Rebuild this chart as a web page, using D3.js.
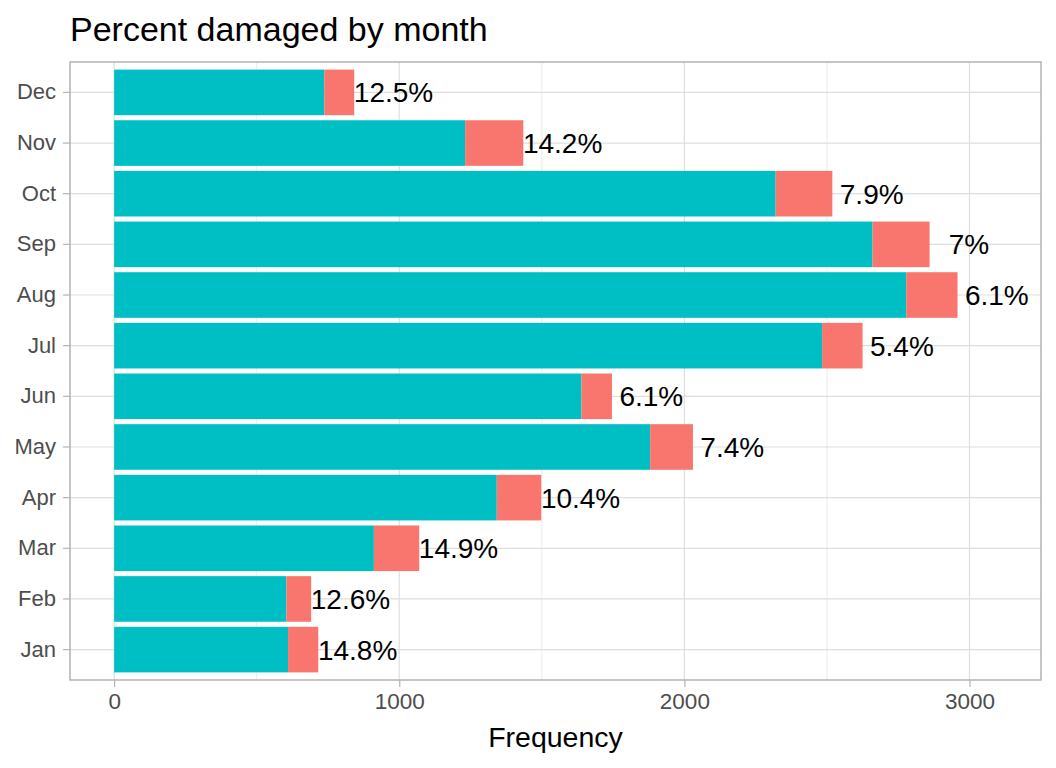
<!DOCTYPE html>
<html>
<head>
<meta charset="utf-8">
<script src="https://cdn.jsdelivr.net/npm/d3@7"></script>
<style>
  body { margin: 0; background: #fff; }
  text { font-family: "Liberation Sans", Arial, sans-serif; }
</style>
</head>
<body>
<div id="svg-canvas"></div>
<script>
// data
var months = ["Jan", "Feb", "Mar", "Apr", "May", "Jun", "Jul", "Aug", "Sep", "Oct", "Nov", "Dec"]
var notDamaged = [610, 604, 911, 1342, 1880, 1639, 2483, 2778, 2660, 2320, 1231, 737]
var damaged = [106, 87, 159, 156, 150, 107, 142, 180, 200, 199, 204, 105]
var pctLabels = ["14.8%", "12.6%", "14.9%", "10.4%", "7.4%", "6.1%", "5.4%", "6.1%", "7%", "7.9%", "14.2%", "12.5%"]
var xTicks = [0, 1000, 2000, 3000]
var labelNudge = 138

var W = 1056, H = 768
var pLeft = 70, pRight = 1041, pTop = 62, pBottom = 680

var svg = d3.select('#svg-canvas')
  .append('svg')
  .attr("width", W)
  .attr("height", H)

var rows = months.map(function (m, i) {
  return { month: m, nd: notDamaged[i], dmg: damaged[i], total: notDamaged[i] + damaged[i], label: pctLabels[i] }
})

// ggplot style 5% expansion, label positions included
var maxX = d3.max(rows, function (d) { return d.total + labelNudge })
var pad = maxX * 0.05
var x = d3.scaleLinear().domain([-pad, maxX + pad]).range([pLeft, pRight])

// discrete axis: 0.6 units of expansion each side, bars 0.9 wide
var y = d3.scaleBand()
  .domain(months.slice().reverse())
  .range([pTop, pBottom])
  .paddingInner(0.1)
  .paddingOuter(0.15)

var g = svg.append("g")

// minor grid
g.selectAll(".minor")
  .data([500, 1500, 2500])
  .enter().append("line")
  .attr("x1", function (d) { return x(d) })
  .attr("x2", function (d) { return x(d) })
  .attr("y1", pTop).attr("y2", pBottom)
  .attr("stroke", "#e6e6e6")
  .attr("stroke-width", 0.8)

// major grid
g.selectAll(".vmajor")
  .data(xTicks)
  .enter().append("line")
  .attr("x1", function (d) { return x(d) })
  .attr("x2", function (d) { return x(d) })
  .attr("y1", pTop).attr("y2", pBottom)
  .attr("stroke", "#dedede")
  .attr("stroke-width", 1.2)

g.selectAll(".hmajor")
  .data(months)
  .enter().append("line")
  .attr("x1", pLeft).attr("x2", pRight)
  .attr("y1", function (d) { return y(d) + y.bandwidth() / 2 })
  .attr("y2", function (d) { return y(d) + y.bandwidth() / 2 })
  .attr("stroke", "#dedede")
  .attr("stroke-width", 1.2)

// bars
g.selectAll(".nd")
  .data(rows)
  .enter().append("rect")
  .attr("x", x(0))
  .attr("y", function (d) { return y(d.month) })
  .attr("width", function (d) { return x(d.nd) - x(0) })
  .attr("height", y.bandwidth())
  .attr("fill", "#00BFC4")

g.selectAll(".dmg")
  .data(rows)
  .enter().append("rect")
  .attr("x", function (d) { return x(d.nd) })
  .attr("y", function (d) { return y(d.month) })
  .attr("width", function (d) { return x(d.total) - x(d.nd) })
  .attr("height", y.bandwidth())
  .attr("fill", "#F8766D")

// percent labels
g.selectAll(".lab")
  .data(rows)
  .enter().append("text")
  .attr("x", function (d) { return x(d.total + labelNudge) })
  .attr("y", function (d) { return y(d.month) + y.bandwidth() / 2 })
  .attr("dy", "0.36em")
  .attr("text-anchor", "middle")
  .attr("font-size", 28)
  .attr("fill", "#000")
  .text(function (d) { return d.label })

// panel border
svg.append("rect")
  .attr("x", pLeft).attr("y", pTop)
  .attr("width", pRight - pLeft).attr("height", pBottom - pTop)
  .attr("fill", "none")
  .attr("stroke", "#b3b3b3")
  .attr("stroke-width", 1.5)

// axes
var xAxis = svg.append("g")
  .attr("transform", "translate(0," + pBottom + ")")
  .call(d3.axisBottom(x).tickValues(xTicks).tickSize(7).tickPadding(6).tickFormat(d3.format("d")))
xAxis.select(".domain").remove()
xAxis.selectAll("line").attr("stroke", "#b3b3b3").attr("stroke-width", 1.2)
xAxis.selectAll("text").attr("font-size", 22.5).attr("fill", "#4d4d4d")
  .style("font-family", '"Liberation Sans", Arial, sans-serif')

var yAxis = svg.append("g")
  .attr("transform", "translate(" + pLeft + ",0)")
  .call(d3.axisLeft(y).tickSize(7).tickPadding(7))
yAxis.select(".domain").remove()
yAxis.selectAll("line").attr("stroke", "#b3b3b3").attr("stroke-width", 1.2)
yAxis.selectAll("text").attr("font-size", 22).attr("fill", "#4d4d4d")
  .style("font-family", '"Liberation Sans", Arial, sans-serif')

// titles
svg.append("text")
  .attr("x", pLeft)
  .attr("y", 41)
  .attr("font-size", 34)
  .attr("fill", "#000")
  .text("Percent damaged by month")

svg.append("text")
  .attr("x", (pLeft + pRight) / 2)
  .attr("y", 747)
  .attr("text-anchor", "middle")
  .attr("font-size", 28.5)
  .attr("fill", "#000")
  .text("Frequency")
</script>
</body>
</html>
